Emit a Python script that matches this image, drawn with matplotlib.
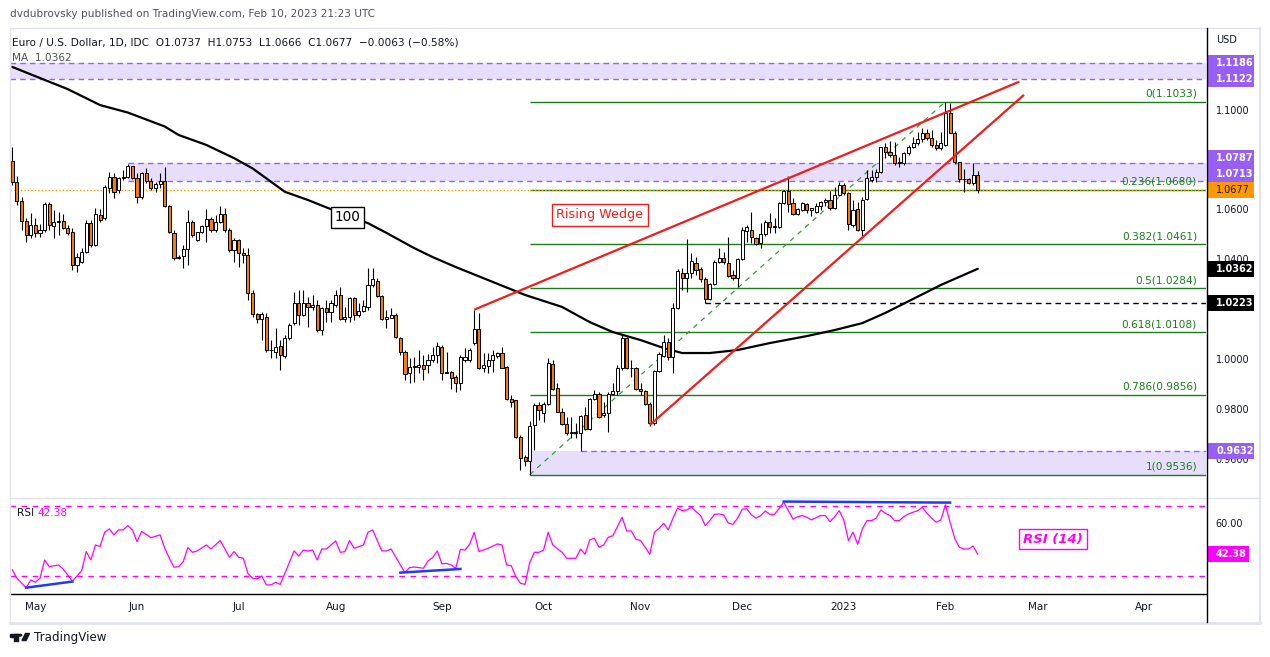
import matplotlib
matplotlib.use('Agg')
import matplotlib.pyplot as plt
import numpy as np
import pandas as pd
from matplotlib.patches import Rectangle, Polygon, Circle
from matplotlib.lines import Line2D
from matplotlib.transforms import blended_transform_factory

plt.rcParams['font.family'] = ['DejaVu Sans']

# ---------------- DATA ----------------
start_date = '2022-04-25'

opens = [
1.0795,1.0709,1.0634,1.0554,1.0498,1.0538,1.0504,1.0518,1.0622,1.0534,
1.0554,1.0554,1.0524,1.0511,1.0377,1.0390,1.0431,1.0544,1.0457,1.0578,
1.0565,1.0685,1.0729,1.0678,1.0725,1.0732,1.0775,1.0728,1.0649,1.0745,
1.0716,1.0688,1.0701,1.0714,1.0615,1.0504,1.0408,1.0413,1.0440,1.0548,
1.0478,1.0508,1.0534,1.0561,1.0518,1.0551,1.0581,1.0518,1.0437,1.0478,
1.0424,1.0417,1.0263,1.0179,1.0159,1.0170,1.0036,1.0029,1.0053,1.0012,
1.0083,1.0143,1.0223,1.0176,1.0223,1.0210,1.0217,1.0116,1.0203,1.0190,
1.0217,1.0257,1.0162,1.0167,1.0243,1.0176,1.0193,1.0210,1.0297,1.0313,
1.0254,1.0159,1.0163,1.0176,1.0083,1.0029,0.9942,0.9966,0.9969,0.9976,
0.9976,0.9996,1.0016,1.0049,0.9945,0.9949,0.9929,0.9902,0.9996,0.9996,
1.0063,1.0120,0.9962,0.9973,0.9996,1.0012,1.0023,0.9969,0.9839,0.9835,
0.9688,0.9605,0.9592,0.9735,0.9815,0.9782,0.9818,0.9980,0.9882,0.9789,
0.9738,0.9705,0.9704,0.9702,0.9775,0.9718,0.9838,0.9858,0.9775,0.9782,
0.9858,0.9872,0.9963,1.0086,0.9963,0.9963,0.9878,0.9873,0.9818,0.9742,
0.9952,1.0012,1.0070,1.0010,1.0204,1.0347,1.0324,1.0344,1.0387,1.0360,
1.0320,1.0240,1.0301,1.0391,1.0404,1.0384,1.0337,1.0326,1.0400,1.0515,
1.0518,1.0484,1.0464,1.0501,1.0551,1.0529,1.0531,1.0628,1.0674,1.0625,
1.0582,1.0598,1.0622,1.0598,1.0588,1.0612,1.0631,1.0638,1.0605,1.0658,
1.0698,1.0665,1.0538,1.0601,1.0518,1.0641,1.0719,1.0729,1.0752,1.0850,
1.0832,1.0819,1.0785,1.0785,1.0825,1.0850,1.0866,1.0882,1.0908,1.0886,
1.0859,1.0845,1.0859,1.0986,1.0906,1.0792,1.0721,1.0721,1.0708,1.0737,
]
highs = [
1.0852,1.0734,1.0651,1.0565,1.0585,1.0565,1.0540,1.0631,1.0631,1.0598,
1.0591,1.0581,1.0538,1.0524,1.0424,1.0444,1.0558,1.0558,1.0605,1.0602,
1.0698,1.0749,1.0745,1.0732,1.0759,1.0782,1.0776,1.0745,1.0752,1.0765,
1.0725,1.0712,1.0745,1.0772,1.0618,1.0518,1.0417,1.0457,1.0598,1.0558,
1.0511,1.0538,1.0602,1.0568,1.0578,1.0614,1.0605,1.0524,1.0484,1.0480,
1.0444,1.0444,1.0277,1.0186,1.0190,1.0183,1.0076,1.0123,1.0076,1.0096,
1.0143,1.0270,1.0277,1.0277,1.0250,1.0257,1.0237,1.0210,1.0237,1.0237,
1.0277,1.0290,1.0210,1.0250,1.0250,1.0223,1.0237,1.0364,1.0364,1.0324,
1.0257,1.0196,1.0203,1.0183,1.0090,1.0036,1.0003,1.0009,1.0036,1.0016,
1.0020,1.0049,1.0069,1.0057,1.0030,0.9952,0.9936,1.0016,1.0043,1.0043,
1.0198,1.0183,1.0023,1.0023,1.0036,1.0029,1.0049,0.9973,0.9856,0.9835,
0.9695,0.9615,0.9751,0.9822,0.9826,0.9829,1.0003,0.9996,0.9902,0.9802,
0.9769,0.9769,0.9742,0.9775,0.9808,0.9842,0.9876,0.9869,0.9829,0.9869,
0.9902,0.9976,1.0096,1.0090,0.9996,0.9966,0.9902,0.9876,0.9829,0.9956,
1.0029,1.0096,1.0083,1.0224,1.0360,1.0364,1.0480,1.0424,1.0411,1.0370,
1.0331,1.0304,1.0397,1.0444,1.0431,1.0491,1.0357,1.0404,1.0531,1.0538,
1.0591,1.0491,1.0545,1.0558,1.0585,1.0565,1.0632,1.0678,1.0736,1.0645,
1.0605,1.0632,1.0628,1.0605,1.0628,1.0635,1.0645,1.0675,1.0692,1.0712,
1.0708,1.0672,1.0638,1.0632,1.0652,1.0759,1.0759,1.0761,1.0852,1.0867,
1.0873,1.0872,1.0812,1.0832,1.0860,1.0892,1.0912,1.0926,1.0922,1.0919,
1.0879,1.0912,1.1033,1.1026,1.0913,1.0792,1.0761,1.0725,1.0785,1.0753,
]
lows = [
1.0698,1.0618,1.0518,1.0471,1.0484,1.0491,1.0491,1.0511,1.0518,1.0484,
1.0498,1.0522,1.0498,1.0357,1.0350,1.0384,1.0424,1.0451,1.0453,1.0548,
1.0558,1.0665,1.0645,1.0665,1.0719,1.0725,1.0721,1.0625,1.0642,1.0705,
1.0678,1.0671,1.0685,1.0611,1.0504,1.0397,1.0400,1.0364,1.0377,1.0491,
1.0474,1.0504,1.0471,1.0511,1.0511,1.0544,1.0511,1.0431,1.0391,1.0370,
1.0384,1.0237,1.0170,1.0146,1.0076,1.0029,1.0003,1.0003,0.9956,1.0003,
1.0076,1.0136,1.0136,1.0172,1.0130,1.0197,1.0110,1.0096,1.0150,1.0150,
1.0210,1.0156,1.0150,1.0150,1.0156,1.0170,1.0190,1.0196,1.0290,1.0250,
1.0156,1.0123,1.0163,1.0083,1.0016,0.9916,0.9902,0.9909,0.9942,0.9916,
0.9942,0.9989,0.9983,0.9916,0.9942,0.9880,0.9866,0.9876,0.9989,0.9989,
1.0056,0.9960,0.9949,0.9942,0.9949,1.0003,0.9963,0.9836,0.9809,0.9684,
0.9553,0.9571,0.9536,0.9635,0.9755,0.9749,0.9815,0.9876,0.9788,0.9735,
0.9695,0.9682,0.9682,0.9631,0.9715,0.9715,0.9835,0.9762,0.9769,0.9706,
0.9855,0.9855,0.9956,0.9960,0.9929,0.9876,0.9856,0.9815,0.9730,0.9735,
0.9946,1.0009,0.9996,0.9943,1.0200,1.0277,1.0270,1.0324,1.0337,1.0310,
1.0223,1.0237,1.0297,1.0384,1.0381,1.0331,1.0317,1.0290,1.0397,1.0471,
1.0465,1.0458,1.0444,1.0494,1.0504,1.0504,1.0525,1.0622,1.0591,1.0578,
1.0578,1.0592,1.0585,1.0572,1.0585,1.0598,1.0614,1.0598,1.0601,1.0654,
1.0658,1.0518,1.0531,1.0515,1.0484,1.0638,1.0712,1.0712,1.0745,1.0807,
1.0812,1.0779,1.0772,1.0779,1.0819,1.0845,1.0859,1.0872,1.0879,1.0852,
1.0839,1.0838,1.0855,1.0906,1.0783,1.0712,1.0672,1.0704,1.0700,1.0666,
]
closes = [
1.0709,1.0634,1.0554,1.0498,1.0538,1.0504,1.0518,1.0622,1.0538,1.0548,
1.0548,1.0524,1.0507,1.0377,1.0408,1.0428,1.0544,1.0457,1.0582,1.0558,
1.0689,1.0729,1.0671,1.0728,1.0729,1.0775,1.0728,1.0649,1.0745,1.0716,
1.0688,1.0701,1.0714,1.0615,1.0511,1.0404,1.0404,1.0440,1.0548,1.0498,
1.0508,1.0534,1.0561,1.0518,1.0551,1.0581,1.0518,1.0437,1.0478,1.0424,
1.0417,1.0263,1.0179,1.0159,1.0179,1.0036,1.0036,1.0049,1.0016,1.0083,
1.0136,1.0223,1.0176,1.0223,1.0210,1.0217,1.0116,1.0203,1.0190,1.0223,
1.0257,1.0159,1.0170,1.0243,1.0176,1.0193,1.0213,1.0297,1.0320,1.0254,
1.0159,1.0170,1.0176,1.0087,1.0029,0.9940,0.9966,0.9972,0.9976,0.9958,
0.9996,1.0016,1.0052,0.9942,0.9945,0.9925,0.9902,1.0009,1.0009,1.0036,
1.0119,0.9962,0.9976,0.9996,1.0016,1.0023,0.9965,0.9839,0.9829,0.9688,
0.9604,0.9592,0.9731,0.9815,0.9795,0.9818,0.9983,0.9878,0.9789,0.9738,
0.9702,0.9704,0.9707,0.9773,0.9718,0.9838,0.9858,0.9769,0.9782,0.9858,
0.9872,0.9963,1.0083,0.9963,0.9963,0.9878,0.9873,0.9818,0.9742,0.9952,
1.0019,1.0070,1.0010,1.0204,1.0353,1.0324,1.0344,1.0393,1.0357,1.0320,
1.0240,1.0301,1.0391,1.0404,1.0391,1.0333,1.0324,1.0400,1.0518,1.0531,
1.0488,1.0462,1.0501,1.0551,1.0531,1.0534,1.0628,1.0674,1.0622,1.0582,
1.0601,1.0625,1.0598,1.0605,1.0614,1.0631,1.0638,1.0605,1.0658,1.0698,
1.0665,1.0542,1.0598,1.0518,1.0638,1.0725,1.0729,1.0752,1.0850,1.0832,
1.0819,1.0785,1.0792,1.0825,1.0850,1.0866,1.0882,1.0908,1.0888,1.0859,
1.0845,1.0866,1.0986,1.0906,1.0792,1.0721,1.0724,1.0705,1.0740,1.0677,
]

# 100-period moving average
ma_bar = [0, 7, 12, 19, 25, 33, 36, 42, 48, 52, 59, 64, 69, 77, 81, 87, 91, 96,
          111, 119, 125, 130, 136, 141, 145, 151, 157, 164, 172, 178, 184, 189, 201, 209]
ma_val = [1.1172, 1.1120, 1.1083, 1.1019, 1.0989, 1.0933, 1.0899, 1.0859, 1.0806,
          1.0765, 1.0671, 1.0638, 1.0601, 1.0545, 1.0506, 1.0445, 1.0409, 1.0369,
          1.0257, 1.0209, 1.0148, 1.0108, 1.0076, 1.0044, 1.0024, 1.0024, 1.0036,
          1.0064, 1.0092, 1.0116, 1.0144, 1.0185, 1.0297, 1.0362]

# RSI(14)
rsi_bar = [0,1,3,4,5,6,7,8,10,11,13,15,16,17,18,19,20,21,22,23,24,25,26,27,28,30,32,33,34,35,
           36,37,38,39,40,42,43,45,47,48,49,50,51,52,53,54,55,56,57,58,59,61,62,63,64,65,66,67,68,70,
           71,72,73,74,76,77,78,80,81,82,84,85,86,87,89,90,91,92,93,94,95,96,97,98,99,100,101,103,105,106,
           107,108,109,110,111,112,113,114,115,116,117,119,120,122,123,124,125,126,127,128,129,130,131,132,133,134,135,136,137,138,
           139,140,141,142,143,144,145,146,147,148,149,150,151,152,153,154,155,156,157,158,159,160,161,162,163,164,165,166,167,168,
           169,170,171,172,173,174,175,176,177,178,179,180,181,182,183,184,185,186,187,188,189,190,191,192,193,194,195,196,197,198,
           199,200,201,202,203,204,205,206,207,208,209]
rsi_val = [33.5,28.7,23.3,27.7,26.4,28.7,39.1,35.3,36.3,34.0,27.1,32.9,43.9,39.1,47.7,46.8,55.0,56.9,53.4,56.3,56.3,58.8,56.3,49.6,55.4,51.9,53.4,45.8,40.1,35.0,
           35.3,38.2,46.2,43.5,44.3,47.7,45.4,50.2,40.7,43.9,40.7,40.1,31.5,28.7,28.3,30.0,24.9,24.9,26.4,25.2,31.5,44.3,41.4,44.8,44.3,44.8,39.1,45.4,45.4,50.0,
           43.5,43.9,50.2,45.8,47.7,55.0,56.3,44.3,44.3,45.4,36.3,31.9,34.8,35.1,34.4,38.6,40.5,44.3,36.9,37.2,36.3,34.4,45.2,44.8,48.1,55.0,43.9,45.8,48.3,47.7,
           36.3,35.9,29.6,25.8,25.2,37.6,43.5,43.5,44.8,55.0,47.7,43.5,40.1,40.1,45.4,42.4,50.6,51.5,46.4,47.7,52.1,53.0,58.2,63.5,55.7,55.7,51.0,50.2,46.4,42.4,
           55.0,57.2,60.1,56.3,62.9,68.7,67.3,67.7,69.2,66.8,64.5,58.8,61.7,65.2,65.4,64.9,60.1,59.5,63.0,68.1,68.3,64.9,63.0,64.5,67.1,65.2,65.2,68.7,72.1,67.3,
           62.5,63.8,64.5,63.5,62.0,63.3,64.5,64.5,61.0,63.8,67.3,62.0,50.2,55.0,48.1,56.8,61.6,61.6,63.0,67.7,65.8,64.5,61.6,61.6,63.9,65.4,66.4,67.3,69.2,65.8,
           63.0,60.7,62.0,70.6,60.7,51.5,46.4,45.4,45.4,47.1,42.38]

# RSI divergence lines (bar, value)
rsi_div = [((3, 23.3), (13, 26.8)), ((84, 31.9), (97, 34.0)), ((167, 72.5), (203, 71.9))]

# zones & levels
zone_top = (1.1122, 1.1186)
zone_mid = (1.0713, 1.0787)
zone_low = (0.9536, 0.9632)
support_level = 1.0223
fib_labels = ['0', '0.236', '0.382', '0.5', '0.618', '0.786', '1']
fib_prices = [1.1033, 1.0680, 1.0461, 1.0284, 1.0108, 0.9856, 0.9536]
wedge_upper = ((100, 1.0198), (218, 1.1113))
wedge_lower = ((138, 0.9735), (219, 1.1060))
fib_trend = ((112, 0.9536), (202, 1.1033))
zone_mid_start = 25
zone_low_start = 112
zone_low_line_start = 123
support_start = 150
fib_start = 112
day_change = -0.0063
day_change_pct = -0.58
price_ticks = [0.96, 0.98, 1.00, 1.04, 1.06, 1.10]
rsi_ticks = [60]

# ---------------- FIGURE ----------------
W, H = 1270, 657
fig = plt.figure(figsize=(W / 100, H / 100), dpi=100)
fig.patch.set_facecolor('white')

def fx(x): return x / W
def fy(y): return 1 - y / H

def px_axes(x0, y0, x1, y1):
    return fig.add_axes([fx(x0), fy(y1), (x1 - x0) / W, (y1 - y0) / H])

def fig_line(x0, y0, x1, y1, color, lw=1.0):
    fig.add_artist(Line2D([fx(x0), fx(x1)], [fy(y0), fy(y1)], color=color, lw=lw,
                          transform=fig.transFigure))

ORANGE = '#f57c00'
PURPLE = '#985ff5'
LAV = '#e7defb'
GREEN = '#1a7d1a'
RED = '#f21c1c'
MAG = '#ff00ff'
TXT = '#131722'
GRID = '#e0e3eb'

n = min(len(opens), len(highs), len(lows), len(closes))
o = np.array(opens[:n]); h = np.array(highs[:n]); l = np.array(lows[:n]); c = np.array(closes[:n])
idx = np.arange(n)

XMIN, XMAX = -0.5, 258.4
ax = px_axes(10, 28, 1206, 497)
rax = px_axes(10, 497, 1206, 594)
for a in (ax, rax):
    a.set_xlim(XMIN, XMAX)
    a.set_facecolor('none')
    for s in a.spines.values():
        s.set_visible(False)
ax.set_ylim(0.94462, 1.13283)
rax.set_ylim(19.7, 75.1)

# zones
ax.fill_between([XMIN, XMAX], zone_top[0], zone_top[1], color=LAV, lw=0, zorder=1)
ax.hlines(list(zone_top), XMIN, XMAX, colors=PURPLE, lw=1, linestyles=(0, (4, 3)), zorder=2)
ax.fill_between([zone_mid_start, XMAX], zone_mid[0], zone_mid[1], color=LAV, lw=0, zorder=1)
ax.hlines(list(zone_mid), zone_mid_start, XMAX, colors=PURPLE, lw=1, linestyles=(0, (4, 3)), zorder=2)
ax.fill_between([zone_low_start, XMAX], zone_low[0], zone_low[1], color=LAV, lw=0, zorder=1)
ax.hlines(zone_low[1], zone_low_line_start, XMAX, colors=PURPLE, lw=1, linestyles=(0, (4, 3)), zorder=2)

# fib levels
trans_fx = blended_transform_factory(fig.transFigure, ax.transData)
for lab, p in zip(fib_labels, fib_prices):
    ax.hlines(p, fib_start, XMAX, colors=GREEN, lw=1, zorder=2)
    ax.text(fx(1197), p + 0.0012, f'{lab}({p:.4f})', transform=trans_fx, ha='right', va='bottom',
            color=GREEN, fontsize=7.6, zorder=6)

# support dashed line
ax.hlines(support_level, support_start, XMAX, colors='black', lw=1, linestyles=(0, (4, 3)), zorder=2)

# current price dotted line
ax.axhline(c[-1], color='#ff9800', lw=1, linestyle=(0, (1, 1.5)), zorder=2)

# fib trend dashed
ax.plot([fib_trend[0][0], fib_trend[1][0]], [fib_trend[0][1], fib_trend[1][1]],
        color='#3a9a3a', lw=0.9, linestyle=(0, (4, 4)), zorder=3)

# MA
ax.plot(ma_bar, ma_val, color='black', lw=1.6, zorder=3.5, solid_capstyle='round')

# candles
up = c >= o
body_bot = np.minimum(o, c)
body_h = np.maximum(np.abs(c - o), 0.00012)
ax.vlines(idx, l, h, color='black', lw=0.8, zorder=4)
ax.bar(idx, body_h, bottom=body_bot, width=0.68,
       color=np.where(up, 'white', ORANGE), edgecolor='black', linewidth=0.7, zorder=4.5)

# wedge
for (x0, y0), (x1, y1) in (wedge_upper, wedge_lower):
    ax.plot([x0, x1], [y0, y1], color=RED, lw=1.6, zorder=5, solid_capstyle='butt')

# annotations
ax.text(127.2, 1.0578, 'Rising Wedge', color=RED, fontsize=9.2, ha='center', va='center', zorder=7,
        bbox=dict(boxstyle='square,pad=0.35', fc='white', ec=RED, lw=1))
ax.text(72.6, 1.0568, '100', color='black', fontsize=9.8, ha='center', va='center', zorder=7,
        bbox=dict(boxstyle='square,pad=0.25', fc='white', ec='black', lw=1))

# price axis ticks
ax.set_xticks([])
ax.yaxis.tick_right()
ax.set_yticks(price_ticks)
ax.set_yticklabels([f'{t:.4f}' for t in price_ticks])
ax.tick_params(axis='y', length=0, pad=7, labelsize=7, labelcolor=TXT)

# price tags (resolve overlaps)
tag_h = 16 / 2492
tag_w = 47 / 1196
tags = [(zone_top[1], PURPLE, 'white'), (zone_top[0], PURPLE, 'white'),
        (zone_mid[1], PURPLE, 'white'), (zone_mid[0], PURPLE, 'white'),
        (c[-1], '#ff9800', TXT), (ma_val[-1], 'black', 'white'),
        (support_level, 'black', 'white'), (zone_low[1], PURPLE, 'white')]
tags_sorted = sorted(tags, key=lambda t: t[0])
prev = None
trm = blended_transform_factory(ax.transAxes, ax.transData)
for p, fc, tc in tags_sorted:
    yp = p
    if prev is not None and yp < prev + tag_h:
        yp = prev + tag_h
    prev = yp
    ax.add_patch(Rectangle((1.0008, yp - tag_h / 2), tag_w, tag_h, transform=trm, facecolor=fc,
                           edgecolor='none', clip_on=False, zorder=10))
    ax.text(1.0 + 10 / 1196, yp, f'{p:.4f}', transform=trm, ha='left', va='center', color=tc,
            fontsize=7, fontweight='bold' if tc == 'white' else 'normal', clip_on=False, zorder=11)

# ---------------- RSI ----------------
rax.axhline(70, color=MAG, lw=1, dashes=(4, 4), zorder=2)
rax.axhline(30, color=MAG, lw=1, dashes=(4, 4), zorder=2)
rax.plot(rsi_bar, rsi_val, color=MAG, lw=0.9, zorder=3)
for (x0, y0), (x1, y1) in rsi_div:
    rax.plot([x0, x1], [y0, y1], color='#1f3cf0', lw=1.8, zorder=4)
rax.text(225.3, 51.1, 'RSI (14)', color=MAG, fontsize=9.5, fontweight='bold', fontstyle='italic',
         ha='center', va='center', zorder=6,
         bbox=dict(boxstyle='square,pad=0.3', fc='white', ec=MAG, lw=1))

rax.yaxis.tick_right()
rax.set_yticks(rsi_ticks)
rax.set_yticklabels([f'{t:.2f}' for t in rsi_ticks])
rax.tick_params(axis='y', length=0, pad=7, labelsize=7, labelcolor=TXT)
trr = blended_transform_factory(rax.transAxes, rax.transData)
rtag_h = 16 / 1.75
rax.add_patch(Rectangle((1.0008, rsi_val[-1] - rtag_h / 2), 42 / 1196, rtag_h, transform=trr,
                        facecolor=MAG, edgecolor='none', clip_on=False, zorder=10))
rax.text(1.0 + 10 / 1196, rsi_val[-1], f'{rsi_val[-1]:.2f}', transform=trr, ha='left', va='center',
         color='white', fontsize=7, fontweight='bold', clip_on=False, zorder=11)

# month ticks from business-day calendar
days = pd.bdate_range(start_date, periods=262)
mt_pos, mt_lab = [], []
for i in range(1, len(days)):
    if days[i].month != days[i - 1].month and i <= XMAX:
        mt_pos.append(i)
        mt_lab.append(str(days[i].year) if days[i].month == 1 else days[i].strftime('%b'))
rax.set_xticks(mt_pos)
rax.set_xticklabels(mt_lab)
rax.tick_params(axis='x', length=0, pad=5.5, labelsize=7.5, labelcolor=TXT)
rax.spines['bottom'].set_visible(True)
rax.spines['bottom'].set_color('black')
rax.spines['bottom'].set_linewidth(1)

# ---------------- FRAME & TEXT ----------------
fig_line(10, 28, 1260, 28, GRID, 1)
fig_line(10, 28, 10, 622, GRID, 1)
fig_line(1260, 28, 1260, 622, GRID, 1.5)
fig_line(10, 622.5, 1260, 622.5, GRID, 2)
fig_line(10, 497.5, 1260, 497.5, GRID, 1)
fig_line(1206.5, 28, 1206.5, 622, 'black', 1)

fig.text(fx(10.5), fy(14), 'dvdubrovsky published on TradingView.com, Feb 10, 2023 21:23 UTC',
         fontsize=7.6, color='#50535e', va='center', ha='left')
legend_txt = (f'Euro / U.S. Dollar, 1D, IDC  O{o[-1]:.4f}  H{h[-1]:.4f}  L{l[-1]:.4f}  '
              f'C{c[-1]:.4f}  \u2212{abs(day_change):.4f} (\u2212{abs(day_change_pct):.2f}%)')
fig.text(fx(12), fy(42.5), legend_txt, fontsize=7.6, color=TXT, va='center', ha='left')
fig.text(fx(12), fy(58), f'MA  {ma_val[-1]:.4f}', fontsize=7.6, color='#50535e', va='center', ha='left')
fig.text(fx(1216), fy(40), 'USD', fontsize=7, color=TXT, va='center', ha='left')
fig.text(fx(17), fy(513), 'RSI', fontsize=7.6, color=TXT, va='center', ha='left')
fig.text(fx(37), fy(513), f'{rsi_val[-1]:.2f}', fontsize=7.6, color=MAG, va='center', ha='left')

# TradingView logo
fig.add_artist(Rectangle((fx(10), fy(636.5)), 7.5 / W, 2.8 / H, transform=fig.transFigure, color=TXT))
fig.add_artist(Rectangle((fx(14), fy(640.5)), 3.5 / W, 7 / H, transform=fig.transFigure, color=TXT))
fig.add_artist(Circle((fx(20), fy(635.2)), 1.6 / W, transform=fig.transFigure, color=TXT))
fig.add_artist(Polygon([(fx(22), fy(640.5)), (fx(25.5), fy(633.5)), (fx(29.5), fy(633.5)), (fx(26), fy(640.5))],
                       closed=True, transform=fig.transFigure, color=TXT))
fig.text(fx(34.5), fy(637.5), 'TradingView', fontsize=8.6, color=TXT, va='center', ha='left')

fig.savefig('out.png', dpi=100, facecolor='white')
